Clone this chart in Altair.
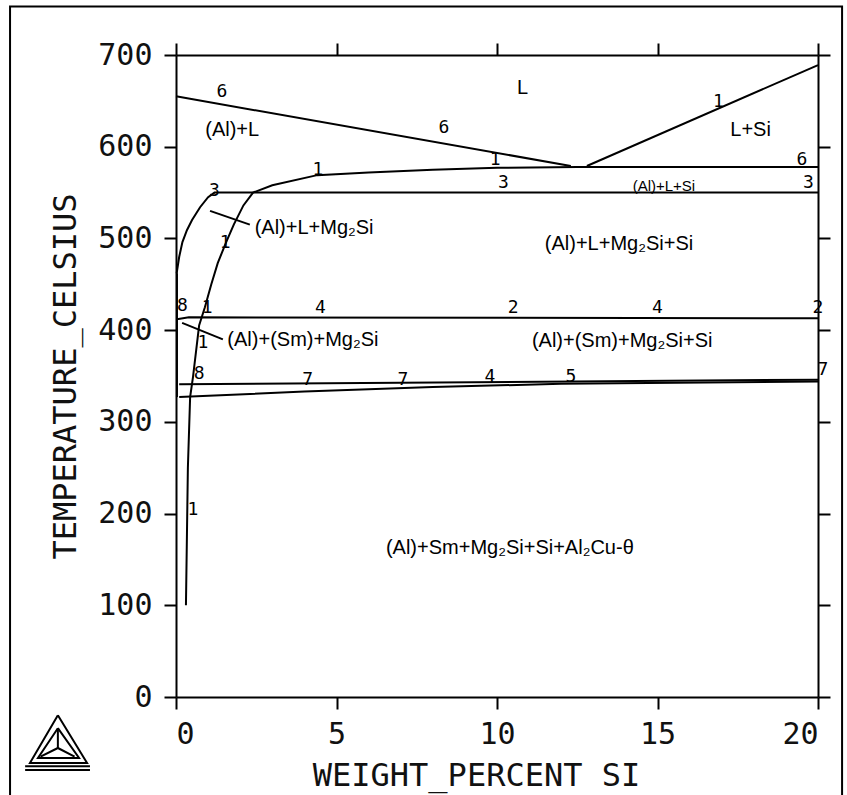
import altair as alt
import pandas as pd

# ---------------- phase-boundary curves (x = wt% Si, y = T in Celsius) -------------
liq_al_x = [0.0, 12.3]
liq_al_y = [655, 579]
liq_si_x = [12.8, 20.0]
liq_si_y = [579, 689]
c1_x = [0.31, 0.37, 0.44, 0.53, 0.72, 0.90, 1.10, 1.30, 1.55, 1.80, 2.10, 2.40, 3.00, 4.40, 6.00, 8.00, 10.0, 12.5, 20.0]
c1_y = [100, 250, 327, 349, 405, 425, 450, 473, 495, 515, 536, 550, 558, 569, 572, 575, 577, 578, 578]
c3_x = [0.02, 0.10, 0.20, 0.34, 0.50, 0.75, 1.00, 1.20, 20.0]
c3_y = [462, 480, 496, 509, 520, 534, 545, 550, 550]
v0_x = [0.03, 0.03]
v0_y = [462, 327]
h413_x = [0.03, 0.40, 20.0]
h413_y = [412, 414, 413]
h7_x = [0.1, 20.0]
h7_y = [341, 346]
hlow_x = [0.1, 4.0, 8.0, 12.0, 20.0]
hlow_y = [327, 333, 338, 341.5, 344]
lead1_x = [1.06, 2.3]
lead1_y = [530, 515]
lead2_x = [0.19, 1.46]
lead2_y = [408, 390]

# Thermo-Calc logo and page frame (drawn in data units outside the plot)
logo_out_x = [-3.68, -4.55, -2.77, -3.68]
logo_out_y = [-20, -72, -72, -20]
logo_in_x = [-3.68, -4.30, -3.02, -3.68]
logo_in_y = [-34, -66.5, -66.5, -34]
logo_y1_x = [-3.68, -3.68]
logo_y1_y = [-34, -55.6]
logo_y2_x = [-4.22, -3.68, -3.16]
logo_y2_y = [-65, -55.6, -65]
logo_b1_x = [-4.7, -2.68]
logo_b1_y = [-75.5, -75.5]
logo_b2_x = [-4.7, -2.68]
logo_b2_y = [-79.5, -79.5]
frame_x = [-5.17, -5.17, 20.75, 20.75]
frame_y = [-130, 753, 753, -130]

curves = {
    "liq_al": (liq_al_x, liq_al_y), "liq_si": (liq_si_x, liq_si_y),
    "c1": (c1_x, c1_y), "c3": (c3_x, c3_y), "v0": (v0_x, v0_y),
    "h413": (h413_x, h413_y), "h7": (h7_x, h7_y), "hlow": (hlow_x, hlow_y),
    "lead1": (lead1_x, lead1_y), "lead2": (lead2_x, lead2_y),
    "logo_out": (logo_out_x, logo_out_y), "logo_in": (logo_in_x, logo_in_y),
    "logo_y1": (logo_y1_x, logo_y1_y), "logo_y2": (logo_y2_x, logo_y2_y),
    "logo_b1": (logo_b1_x, logo_b1_y), "logo_b2": (logo_b2_x, logo_b2_y),
    "frame": (frame_x, frame_y),
}
rows = []
for name, (xs_, ys_) in curves.items():
    for i, (a, b) in enumerate(zip(xs_, ys_)):
        rows.append({"curve": name, "x": a, "y": b, "i": i})
lines_df = pd.DataFrame(rows)

# ---------------- region labels ----------------
region_text = ["L", "(Al)+L", "L+Si", "(Al)+L+Mg₂Si+Si", "(Al)+(Sm)+Mg₂Si+Si",
               "(Al)+Sm+Mg₂Si+Si+Al₂Cu-θ"]
region_x = [10.8, 1.75, 17.9, 13.8, 13.9, 10.4]
region_y = [664, 618, 618, 494, 388, 162]
small_text = ["(Al)+L+Si"]
small_x = [15.2]
small_y = [557]
left_text = ["(Al)+L+Mg₂Si", "(Al)+(Sm)+Mg₂Si"]
left_x = [2.45, 1.6]
left_y = [511, 389]

# ---------------- curve numbers ----------------
num_text = ["6", "6", "1", "1", "6", "3", "3", "1", "3", "1", "4", "2", "4", "2",
            "8", "1", "1", "8", "7", "7", "4", "5", "7", "1"]
num_x = [1.43, 8.35, 9.94, 16.9, 19.5, 10.2, 19.7, 4.42, 1.2, 1.53, 4.5, 10.5, 15.0, 20.0,
         0.2, 0.97, 0.84, 0.72, 4.1, 7.07, 9.78, 12.3, 20.15, 0.53]
num_y = [660, 620, 586, 649, 586, 560, 560, 575, 552, 495, 424, 424, 424, 424,
         426, 424, 386, 352, 346, 346, 349, 349, 357, 204]

region_df = pd.DataFrame({"t": region_text, "x": region_x, "y": region_y})
small_df = pd.DataFrame({"t": small_text, "x": small_x, "y": small_y})
left_df = pd.DataFrame({"t": left_text, "x": left_x, "y": left_y})
num_df = pd.DataFrame({"t": num_text, "x": num_x, "y": num_y})

x_ticks = [0, 5, 10, 15, 20]
y_ticks = [0, 100, 200, 300, 400, 500, 600, 700]

xs = alt.Scale(domain=[0, 20], nice=False, zero=False)
ys = alt.Scale(domain=[0, 700], nice=False, zero=False)

MONO = "DejaVu Sans Mono"
SANS = "Liberation Sans"

lines = alt.Chart(lines_df).mark_line(color="black", strokeWidth=2, clip=False).encode(
    x=alt.X("x:Q", scale=xs, axis=alt.Axis(
        orient="bottom", values=x_ticks, title="WEIGHT_PERCENT SI", format="d",
        labelPadding=10, titleX=300, titleY=78, titleAlign="center",
        titleBaseline="middle")),
    y=alt.Y("y:Q", scale=ys, axis=alt.Axis(
        orient="left", values=y_ticks, title="TEMPERATURE_CELSIUS", format="d",
        labelPadding=12, titleX=-111, titleY=321, titleAngle=270,
        titleAlign="center", titleBaseline="middle")),
    detail="curve:N",
    order="i:Q",
)

regions = alt.Chart(region_df).mark_text(font=SANS, fontSize=20, color="black").encode(
    x=alt.X("x:Q", scale=xs, axis=alt.Axis(orient="top", values=x_ticks, labels=False, title=None)),
    y=alt.Y("y:Q", scale=ys, axis=alt.Axis(orient="right", values=y_ticks, labels=False, title=None)),
    text="t:N",
)
smalls = alt.Chart(small_df).mark_text(font=SANS, fontSize=15, color="black").encode(
    x=alt.X("x:Q", scale=xs, axis=None), y=alt.Y("y:Q", scale=ys, axis=None), text="t:N")
lefts = alt.Chart(left_df).mark_text(font=SANS, fontSize=20, color="black", align="left").encode(
    x=alt.X("x:Q", scale=xs, axis=None), y=alt.Y("y:Q", scale=ys, axis=None), text="t:N")
nums = alt.Chart(num_df).mark_text(font=MONO, fontSize=18, color="black").encode(
    x=alt.X("x:Q", scale=xs, axis=None), y=alt.Y("y:Q", scale=ys, axis=None), text="t:N")

chart = alt.layer(lines, regions, smalls, lefts, nums).resolve_axis(
    x="independent", y="independent"
).properties(
    width=642, height=642,
    autosize=alt.AutoSizeParams(type="none"),
    padding={"left": 176, "top": 55, "right": 29, "bottom": 98},
    background="white",
).configure_view(stroke=None).configure_axis(
    grid=False, domainColor="black", domainWidth=2, tickColor="black", tickWidth=2,
    tickSize=12, labelFont=MONO, labelFontSize=30, labelColor="#111",
    titleFont=MONO, titleFontSize=32, titleFontWeight="normal", titleColor="#111",
)

chart.save("out.html", embed_options={"renderer": "svg", "actions": False})
